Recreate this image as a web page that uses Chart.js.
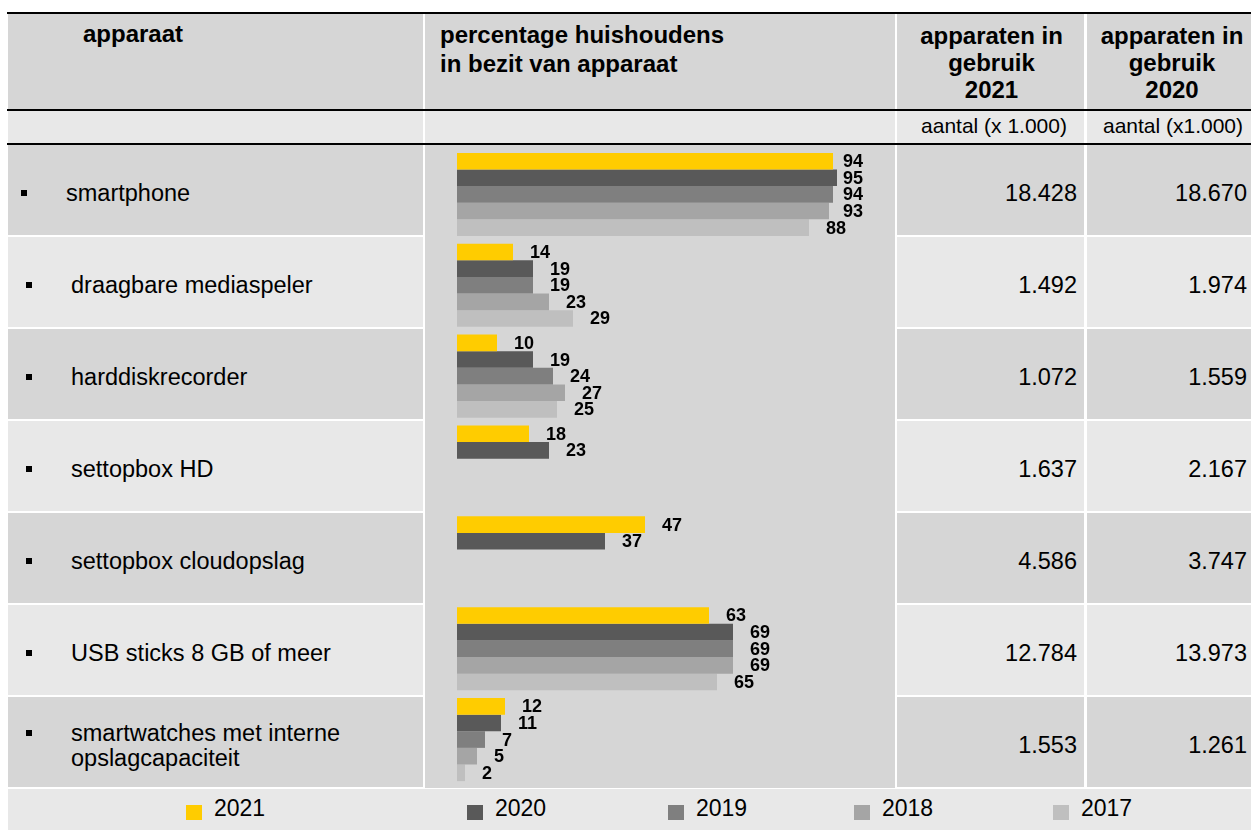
<!DOCTYPE html>
<html lang="nl">

<head>
    <meta charset="UTF-8">
    <title>Apparaten in bezit</title>
    <script src="https://cdn.jsdelivr.net/npm/chart.js"></script>
    <style>
        body {
            margin: 0;
            background: #ffffff;
            font-family: "Liberation Sans", Arial, sans-serif;
            color: #000;
        }

        #pagina {
            position: relative;
            width: 1251px;
            height: 830px;
            overflow: hidden;
        }

        .blok {
            position: absolute;
            box-sizing: border-box;
        }

        .donker { background: #d6d6d6; }
        .licht { background: #e8e8e8; }
        .lijn { background: #000; height: 2px; left: 7px; width: 1244px; }

        .kop {
            position: absolute;
            font-weight: bold;
            font-size: 24px;
            white-space: nowrap;
        }

        .sub {
            position: absolute;
            font-size: 21px;
            line-height: 21px;
            text-align: center;
            white-space: nowrap;
        }

        .rij-tekst {
            display: flex;
            align-items: center;
            padding-top: 7px;
            font-size: 23.5px;
        }

        .rij-tekst span {
            position: relative;
            line-height: 25px;
            width: 320px;
        }

        .rij-tekst span::before {
            content: "";
            position: absolute;
            width: 6px;
            height: 6px;
            background: #000;
            left: -45px;
            top: 9px;
        }

        .getal {
            font-size: 23.5px;
            line-height: 90px;
            padding-top: 3px;
            text-align: right;
        }

        .leg-vak {
            position: absolute;
            width: 16px;
            height: 15px;
            top: 805px;
        }

        .leg-tekst {
            position: absolute;
            top: 797px;
            font-size: 23px;
            line-height: 23px;
        }

        #grafiek {
            position: absolute;
            left: 425px;
            top: 145px;
        }
    </style>
</head>

<body>
    <div id="pagina">
        <!-- kopregel -->
        <div class="blok donker" style="left:8px; top:14px; width:415px; height:95px"></div>
        <div class="blok donker" style="left:425px; top:14px; width:470px; height:95px"></div>
        <div class="blok donker" style="left:897px; top:14px; width:187px; height:95px"></div>
        <div class="blok donker" style="left:1087px; top:14px; width:164px; height:95px"></div>
        <div class="blok licht" style="left:8px; top:111px; width:415px; height:32px"></div>
        <div class="blok licht" style="left:425px; top:111px; width:470px; height:32px"></div>
        <div class="blok licht" style="left:897px; top:111px; width:187px; height:32px"></div>
        <div class="blok licht" style="left:1087px; top:111px; width:164px; height:32px"></div>
        <div class="blok donker" style="left:425px; top:145px; width:470px; height:643px"></div>
        <div class="blok licht" style="left:8px; top:789px; width:1243px; height:41px"></div>

        <div class="blok lijn" style="top:12px"></div>
        <div class="blok lijn" style="top:109px"></div>
        <div class="blok lijn" style="top:143px"></div>

        <div class="kop" style="left:83px; top:22px; line-height:24px">apparaat</div>
        <div class="kop" style="left:440px; top:20px; line-height:29px">percentage huishoudens<br>in bezit van apparaat</div>
        <div class="kop" style="left:897px; width:189px; top:22px; line-height:27px; text-align:center">apparaten in<br>gebruik<br>2021</div>
        <div class="kop" style="left:1087px; width:170px; top:22px; line-height:27px; text-align:center">apparaten in<br>gebruik<br>2020</div>
        <div class="sub" style="left:897px; width:194px; top:115px">aantal (x 1.000)</div>
        <div class="sub" style="left:1087px; width:172px; top:115px">aantal (x1.000)</div>

        <div id="rijen"></div>
        <div id="legenda"></div>
        <canvas id="grafiek" width="470" height="643"></canvas>
    </div>

    <script>
        var categorieen = ['smartphone', 'draagbare mediaspeler', 'harddiskrecorder', 'settopbox HD',
            'settopbox cloudopslag', 'USB sticks 8 GB of meer', 'smartwatches met interne opslagcapaciteit'];
        var jaren = ['2021', '2020', '2019', '2018', '2017'];

        // percentage huishoudens in bezit van apparaat
        var bezit2021 = [94, 14, 10, 18, 47, 63, 12];
        var bezit2020 = [95, 19, 19, 23, 37, 69, 11];
        var bezit2019 = [94, 19, 24, null, null, 69, 7];
        var bezit2018 = [93, 23, 27, null, null, 69, 5];
        var bezit2017 = [88, 29, 25, null, null, 65, 2];

        // apparaten in gebruik, aantal x 1.000
        var gebruik2021 = ['18.428', '1.492', '1.072', '1.637', '4.586', '12.784', '1.553'];
        var gebruik2020 = ['18.670', '1.974', '1.559', '2.167', '3.747', '13.973', '1.261'];

        var kleuren = ['#ffcc00', '#595959', '#7f7f7f', '#a5a5a5', '#bfbfbf'];
        var legendaX = [186, 467, 668, 854, 1053];

        // tabelrijen links en rechts
        var rijen = document.getElementById('rijen');
        categorieen.forEach(function (naam, i) {
            var top = 145 + i * 92;
            var kleur = i % 2 === 0 ? 'donker' : 'licht';
            var links = i === 0 ? 66 : 71;

            var cel = document.createElement('div');
            cel.className = 'blok rij-tekst ' + kleur;
            cel.style.cssText = 'left:8px; top:' + top + 'px; width:415px; height:90px; padding-left:' + (links - 8) + 'px';
            var span = document.createElement('span');
            span.textContent = naam;
            cel.appendChild(span);
            rijen.appendChild(cel);

            var c3 = document.createElement('div');
            c3.className = 'blok getal ' + kleur;
            c3.style.cssText = 'left:897px; top:' + top + 'px; width:187px; height:90px; padding-right:7px';
            c3.textContent = gebruik2021[i];
            rijen.appendChild(c3);

            var c4 = document.createElement('div');
            c4.className = 'blok getal ' + kleur;
            c4.style.cssText = 'left:1087px; top:' + top + 'px; width:164px; height:90px; padding-right:4px';
            c4.textContent = gebruik2020[i];
            rijen.appendChild(c4);
        });

        // legenda
        var legenda = document.getElementById('legenda');
        jaren.forEach(function (jaar, i) {
            var vak = document.createElement('div');
            vak.className = 'leg-vak';
            vak.style.left = legendaX[i] + 'px';
            vak.style.background = kleuren[i];
            legenda.appendChild(vak);

            var t = document.createElement('div');
            t.className = 'leg-tekst';
            t.style.left = (legendaX[i] + 28) + 'px';
            t.textContent = jaar;
            legenda.appendChild(t);
        });

        var waardeLabels = {
            id: 'waardeLabels',
            afterDatasetsDraw: function (chart) {
                var ctx = chart.ctx;
                ctx.save();
                ctx.font = 'bold 18px "Liberation Sans", Arial, sans-serif';
                ctx.fillStyle = '#000';
                ctx.textBaseline = 'middle';
                ctx.textAlign = 'left';
                chart.data.datasets.forEach(function (ds, i) {
                    chart.getDatasetMeta(i).data.forEach(function (bar, j) {
                        var v = ds.data[j];
                        if (v === null || v === undefined) return;
                        var tekst = String(v);
                        var w = ctx.measureText(tekst).width;
                        var x = Math.min(bar.x + 17, chart.chartArea.right + 6 - w);
                        ctx.fillText(tekst, x, bar.y + 1);
                    });
                });
                ctx.restore();
            }
        };

        var reeksen = [bezit2021, bezit2020, bezit2019, bezit2018, bezit2017];

        new Chart(document.getElementById('grafiek'), {
            type: 'bar',
            data: {
                labels: categorieen,
                datasets: reeksen.map(function (data, i) {
                    return {
                        label: jaren[i],
                        data: data,
                        backgroundColor: kleuren[i],
                        borderWidth: 0,
                        barPercentage: 1,
                        categoryPercentage: 0.914
                    };
                })
            },
            options: {
                indexAxis: 'y',
                responsive: false,
                animation: false,
                devicePixelRatio: 1,
                layout: {
                    padding: { left: 32, right: 38, top: 4, bottom: 3 }
                },
                scales: {
                    x: { display: false, min: 0, max: 100 },
                    y: { display: false }
                },
                plugins: {
                    legend: { display: false },
                    tooltip: { enabled: false }
                }
            },
            plugins: [waardeLabels]
        });
    </script>
</body>

</html>
